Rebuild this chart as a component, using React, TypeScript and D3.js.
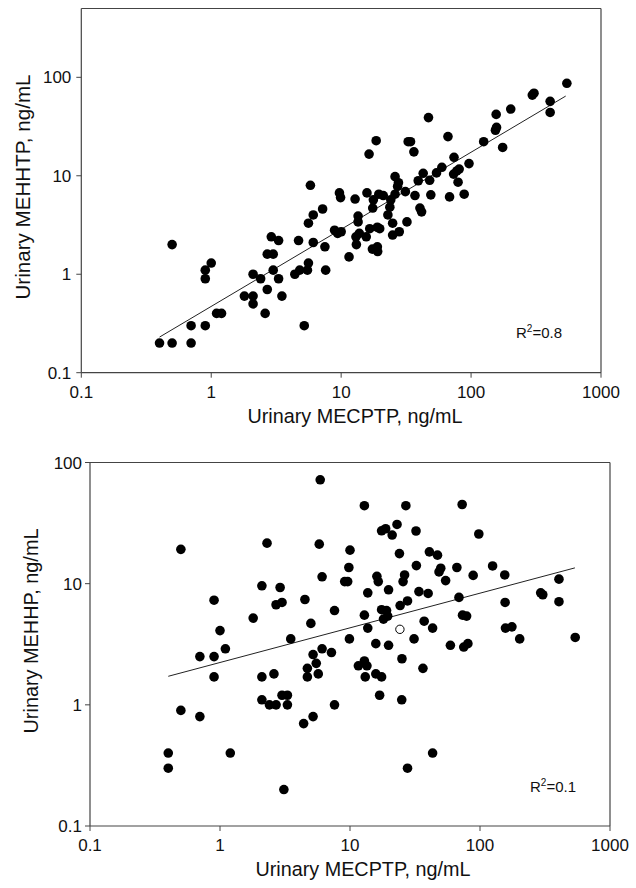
import React from "react";
import * as d3 from "d3";

const xTicks = [0.1, 1, 10, 100, 1000];
const xTickLabels = ["0.1", "1", "10", "100", "1000"];
const yTicks = [0.1, 1, 10, 100];
const yTickLabels = ["0.1", "1", "10", "100"];

// Top panel: MECPTP vs MEHHTP
const topMECPTP = [0.4, 0.5, 0.7, 0.7, 0.9, 0.5, 0.9, 0.9, 1.0, 1.1, 1.2, 1.8, 2.1, 2.1, 2.1, 2.4, 2.6, 2.7, 2.7, 3.0, 2.9, 3.0, 3.3, 3.3, 3.5, 4.4, 4.7, 4.8, 5.2, 5.5, 5.6, 5.6, 5.8, 6.1, 6.1, 7.2, 7.5, 7.6, 8.9, 9.4, 9.7, 9.9, 10, 11.5, 12.8, 13, 13.1, 13.5, 13.5, 13.8, 15.6, 15.8, 16.4, 16.6, 17.4, 17.5, 17.7, 18.6, 19.0, 19.1, 19.0, 19.5, 19.8, 21.1, 22.9, 23.7, 24.1, 24.9, 24.9, 26, 26, 27.2, 28, 27.6, 31.2, 32.1, 32.8, 34.2, 36.3, 37, 40.4, 41.6, 39.2, 42.8, 47, 48, 49, 54.2, 59.6, 66.4, 68.3, 73.9, 73.4, 77.7, 79.4, 81, 88.5, 96.4, 125, 154, 156, 157, 175, 202, 296, 305, 406, 406, 546];
const topMEHHTP = [0.2, 0.2, 0.2, 0.3, 0.3, 2.0, 1.1, 0.9, 1.3, 0.4, 0.4, 0.6, 0.6, 0.5, 1.0, 0.9, 0.4, 0.7, 1.6, 1.6, 2.4, 1.1, 2.2, 0.9, 0.6, 1.0, 2.2, 1.1, 0.3, 1.1, 1.3, 3.3, 8.0, 4.0, 2.1, 4.6, 1.9, 1.1, 2.8, 2.6, 6.7, 6.0, 2.7, 1.5, 5.8, 2.4, 2.0, 3.9, 3.4, 2.6, 2.4, 6.7, 16.6, 2.9, 1.8, 4.7, 5.7, 22.7, 1.9, 1.7, 3.0, 6.5, 2.9, 6.3, 4.0, 4.8, 5.7, 3.3, 2.5, 9.8, 6.5, 7.8, 2.7, 8.5, 6.9, 3.4, 22.2, 22.2, 17.5, 6.3, 4.7, 4.3, 8.9, 10.6, 39, 9.0, 6.4, 10.7, 12.2, 25, 6.1, 15.4, 10.4, 11.2, 8.6, 11.7, 6.5, 13.3, 22.2, 29, 42, 31, 19.4, 47.6, 66, 69, 57, 44, 87];

// Bottom panel: MECPTP vs MEHHP
const bottomMECPTP = [0.4, 0.4, 0.5, 0.5, 0.7, 0.7, 0.9, 0.9, 0.9, 1.0, 1.1, 1.2, 1.8, 2.1, 2.1, 2.1, 2.3, 2.4, 2.6, 2.7, 2.7, 2.9, 3.0, 3.0, 3.3, 3.3, 3.1, 3.5, 4.5, 4.4, 4.7, 4.7, 5.0, 5.2, 5.2, 5.5, 5.7, 5.8, 5.9, 6.1, 6.1, 7.2, 7.6, 7.6, 9.1, 9.6, 9.8, 10, 9.9, 11.6, 12.9, 12.9, 12.9, 13.1, 13.5, 13.7, 13.7, 15.8, 15.8, 16.1, 16.5, 16.9, 17.5, 17.5, 17.5, 18.1, 18.8, 19.1, 19.5, 19.8, 19.8, 21.1, 23, 24, 24.3, 25.1, 25, 25.6, 26.3, 26.9, 27.7, 27.7, 31.1, 32.2, 32.4, 33.9, 36.4, 37.2, 39.9, 40.8, 43.2, 43.2, 47.1, 48.4, 49.9, 54.4, 59.2, 66.4, 68.9, 72.9, 73.4, 75, 78.9, 80.7, 88.6, 97.9, 125, 155, 157, 156, 176, 202, 293, 304, 405, 405, 540];
const bottomMEHHP = [0.4, 0.3, 19.2, 0.9, 2.5, 0.8, 7.3, 2.5, 1.7, 4.1, 2.9, 0.4, 5.2, 9.6, 1.7, 1.1, 21.6, 1.0, 1.8, 6.7, 1.0, 9.3, 7.0, 1.2, 1.2, 1.0, 0.2, 3.5, 7.4, 0.7, 2.0, 1.7, 4.7, 2.6, 0.8, 2.2, 1.8, 21.2, 72, 11.4, 2.9, 2.7, 6.0, 1.0, 10.4, 10.4, 13.6, 18.9, 3.5, 2.1, 44, 5.5, 2.3, 1.7, 2.1, 8.4, 4.3, 3.2, 1.8, 11.5, 10.4, 1.2, 1.7, 27.3, 6.1, 5.1, 28.4, 6.0, 5.4, 8.9, 3.1, 25.2, 30.8, 17.7, 6.6, 2.4, 1.1, 10.4, 11.8, 44, 7.2, 0.3, 3.5, 27.2, 14.1, 8.6, 2.0, 4.9, 8.3, 18.3, 4.3, 0.4, 17.2, 12.5, 13.4, 10.6, 3.1, 13.6, 7.7, 45, 5.5, 3.0, 5.4, 3.2, 11.7, 25.7, 14, 11.8, 4.3, 7.0, 4.4, 3.5, 8.4, 8.1, 10.9, 7.1, 3.6];
const openMECPTP = [24.2];
const openMEHHP = [4.2];

const topFitX = [0.4, 535];
const topFitY = [0.23, 64.5];
const bottomFitX = [0.4, 537];
const bottomFitY = [1.72, 13.5];

const FONT = "'Liberation Sans', Arial, Helvetica, sans-serif";
const AXIS = "#444";

type PanelProps = {
  left: number; right: number; top: number; bottom: number; yMax: number;
  xs: number[]; ys: number[]; fitX: number[]; fitY: number[];
  openX?: number[]; openY?: number[];
  yTitle: string; yTitleX: number; yTitleY: number; yTitleLen: number;
  xTitleX: number; xTitleY: number;
  r2X: number; r2Y: number; r2Text: string; yLabelGap: number;
};

function Panel(p: PanelProps) {
  const x = d3.scaleLog().domain([0.1, 1000]).range([p.left, p.right]);
  const y = d3.scaleLog().domain([0.1, p.yMax]).range([p.bottom, p.top]);
  const line = d3.line<number>().x((d) => x(p.fitX[d])).y((d) => y(p.fitY[d]));
  return (
    <g>
      <line x1={p.left} x2={p.right} y1={p.bottom} y2={p.bottom} stroke={AXIS} strokeWidth={1.2} />
      <line x1={p.left} x2={p.left} y1={p.top} y2={p.bottom} stroke={AXIS} strokeWidth={1.2} />
      <line x1={p.left} x2={p.right} y1={p.top} y2={p.top} stroke={AXIS} strokeWidth={1.2} />
      <line x1={p.right} x2={p.right} y1={p.top} y2={p.bottom} stroke={AXIS} strokeWidth={1.2} />
      {xTicks.map((t, i) => (
        <g key={"xt" + i}>
          <line x1={x(t)} x2={x(t)} y1={p.bottom} y2={p.bottom + 5} stroke={AXIS} strokeWidth={1} />
          <text x={x(t)} y={p.bottom + 25} textAnchor="middle" fontSize={17} fontFamily={FONT} fill="#111">
            {xTickLabels[i]}
          </text>
        </g>
      ))}
      {yTicks.map((t, i) => (
        <g key={"yt" + i}>
          <line x1={p.left - 5} x2={p.left} y1={y(t)} y2={y(t)} stroke={AXIS} strokeWidth={1} />
          <text x={p.left - p.yLabelGap} y={y(t)} dy="0.36em" textAnchor="end" fontSize={17} fontFamily={FONT} fill="#111">
            {yTickLabels[i]}
          </text>
        </g>
      ))}
      <path d={line([0, 1]) || ""} fill="none" stroke="#222" strokeWidth={1} />
      {p.xs.map((v, i) => (
        <circle key={"pt" + i} cx={x(v)} cy={y(p.ys[i])} r={4.8} fill="#000" />
      ))}
      {(p.openX || []).map((v, i) => (
        <circle key={"op" + i} cx={x(v)} cy={y((p.openY || [])[i])} r={4.2} fill="#fff" stroke="#000" strokeWidth={1} />
      ))}
      <text x={p.r2X} y={p.r2Y} fontSize={15} fontFamily={FONT} fill="#111">
        R<tspan dy={-6} fontSize={10}>2</tspan><tspan dy={6}>{p.r2Text}</tspan>
      </text>
      <text x={p.xTitleX} y={p.xTitleY} textAnchor="middle" fontSize={20.5} fontFamily={FONT} fill="#111" textLength={215} lengthAdjust="spacingAndGlyphs">
        Urinary MECPTP, ng/mL
      </text>
      <text transform={`translate(${p.yTitleX},${p.yTitleY}) rotate(-90)`} textAnchor="middle" fontSize={20.5} fontFamily={FONT} fill="#111" textLength={p.yTitleLen} lengthAdjust="spacingAndGlyphs">
        {p.yTitle}
      </text>
    </g>
  );
}

export default function App() {
  return (
    <svg width={636} height={888} style={{ position: "absolute", left: 0, top: 0, background: "#fff" }}>
      <rect x={0} y={0} width={636} height={888} fill="#fff" />
      <Panel left={81.3} right={601} top={8.5} bottom={372.7} yMax={500}
        xs={topMECPTP} ys={topMEHHTP} fitX={topFitX} fitY={topFitY}
        yTitle="Urinary MEHHTP, ng/mL" yTitleX={29.5} yTitleY={187} yTitleLen={225}
        xTitleX={355} xTitleY={423} r2X={516} r2Y={338} r2Text="=0.8" yLabelGap={10} />
      <Panel left={90} right={610} top={462.5} bottom={826} yMax={100}
        xs={bottomMECPTP} ys={bottomMEHHP} fitX={bottomFitX} fitY={bottomFitY}
        openX={openMECPTP} openY={openMEHHP}
        yTitle="Urinary MEHHP, ng/mL" yTitleX={37.5} yTitleY={631} yTitleLen={205}
        xTitleX={363} xTitleY={876} r2X={530} r2Y={792} r2Text="=0.1" yLabelGap={8} />
    </svg>
  );
}
